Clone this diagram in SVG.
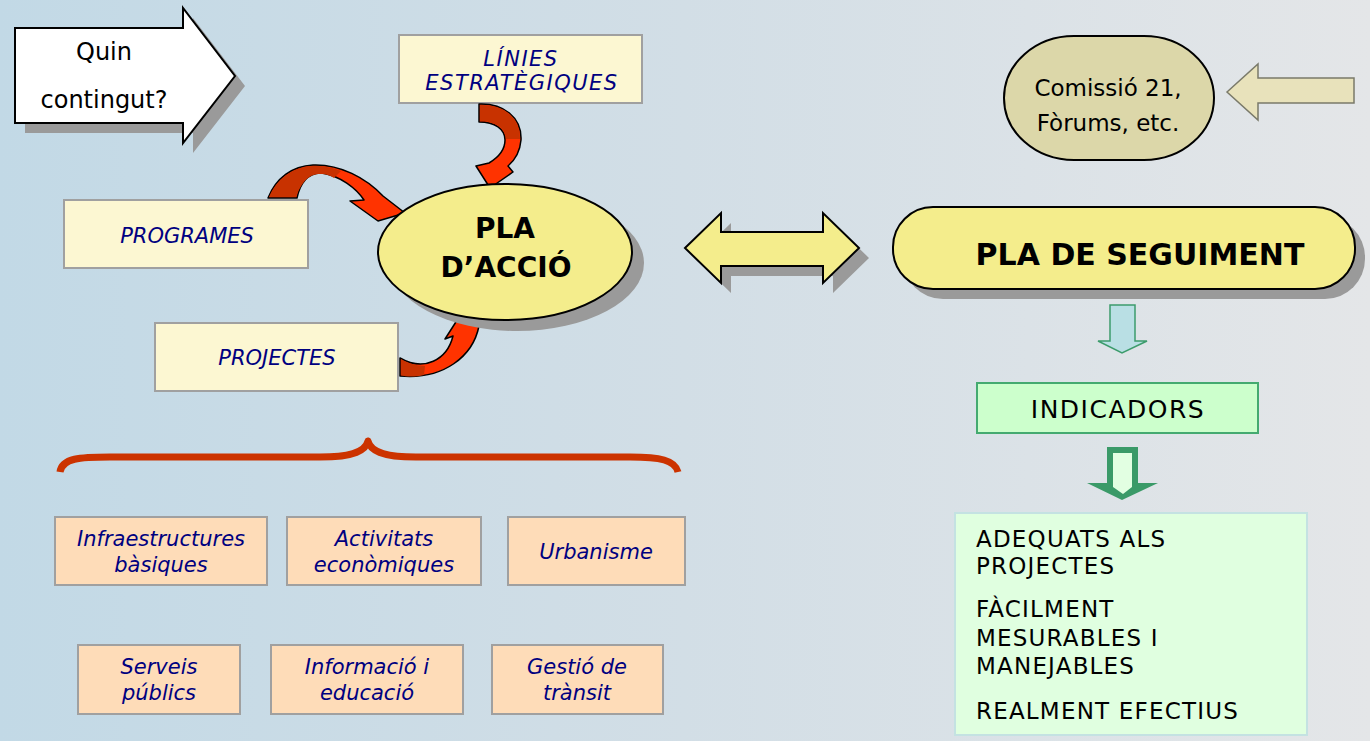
<svg xmlns="http://www.w3.org/2000/svg" width="1370" height="741" viewBox="0 0 1370 741">
<defs>
<linearGradient id="bg" x1="0" y1="0" x2="1" y2="0">
<stop offset="0" stop-color="#c2d9e6"/>
<stop offset="0.5" stop-color="#d2dee6"/>
<stop offset="1" stop-color="#e4e6e8"/>
</linearGradient>
</defs>
<style>
text{font-family:"DejaVu Sans","Liberation Sans",sans-serif;}
.blue{fill:#000080;font-style:italic;font-size:21px;text-anchor:middle;}
.blk{fill:#000;text-anchor:middle;}
.bold{font-weight:bold;}
.cream{fill:#fcf7d2;stroke:#a0a0a0;stroke-width:2;}
.peach{fill:#fedcb8;stroke:#a0a0a0;stroke-width:2;}
.shadow{fill:#9a9a9a;}
.yel{fill:#f4ed8c;stroke:#000;stroke-width:2;}
.red{fill:#ff3300;stroke:#000;stroke-width:1.5;stroke-linejoin:round;}
.dred{fill:#c83200;stroke:none;}
.list{fill:#000;font-size:23px;letter-spacing:1.2px;}
</style>
<rect x="0" y="0" width="1370" height="741" fill="url(#bg)"/>

<g id="quin">
<polygon class="shadow" points="25,38 193,38 193,18 245,86 193,153 193,133 25,133"/>
<polygon points="15,28 183,28 183,8 235,76 183,143 183,123 15,123" fill="#fff" stroke="#000" stroke-width="2"/>
<text class="blk" x="104" y="60" font-size="24">Quin</text>
<text class="blk" x="104" y="108" font-size="24">contingut?</text>
</g>

<g id="linies">
<rect class="cream" x="399" y="35" width="243" height="68"/>
<text class="blue" x="521" y="66" letter-spacing="1.5">LÍNIES</text>
<text class="blue" x="522" y="90" letter-spacing="1.5">ESTRATÈGIQUES</text>
</g>

<g id="programes">
<rect class="cream" x="64" y="200" width="244" height="68"/>
<text class="blue" x="187" y="243">PROGRAMES</text>
</g>

<g id="projectes">
<rect class="cream" x="155" y="323" width="243" height="68"/>
<text class="blue" x="277" y="365">PROJECTES</text>
</g>

<g id="connectors">
<path class="red" d="M479,104 C503,103 522,117 521,140 C520,152 515,160 508,166 L513,172 L490,188 L476,166 L489,163 C499,157 505,149 505,140 C505,129 495,122 479,122 Z"/>
<path class="dred" d="M480,105 C503,104 520,117 520,139 L506,139 C506,129 495,121 480,121 Z"/>
<path class="red" d="M268,198 C276,178 292,166 313,165 C340,164 366,178 383,196 L405,213 L378,221 L350,201 L364,200 C356,188 340,176 322,173 C308,172 300,184 297,198 Z"/>
<path class="dred" d="M269,197 C277,179 292,167 313,166 C325,166 334,168 341,171 L334,178 C329,175 326,174 322,174 C308,173 301,184 296,197 Z"/>
<path class="red" d="M400,358 C424,372 447,360 453,336 L445,339 L470,300 L487,322 L479,326 C473,356 444,380 400,376 Z"/>
<path class="dred" d="M401,359 C408,363 416,366 425,366 L424,375 C415,377 406,377 401,375 Z"/>
<polygon class="shadow" points="695,258 731,223 731,242 833,242 833,223 869,258 833,293 833,276 731,276 731,293"/>
<polygon class="yel" points="685,248 721,213 721,232 823,232 823,213 859,248 823,283 823,266 721,266 721,283"/>
<polygon points="1227,92 1258,64 1258,78 1354,78 1354,103 1258,103 1258,120" fill="#e8e2bb" stroke="#7a7a6a" stroke-width="1.5"/>
<polygon points="1110,305 1135,305 1135,341 1147,341 1122,353 1098,341 1110,341" fill="#b9dfe4" stroke="#3c9c6c" stroke-width="1.5"/>
<polygon points="1107,447 1138,447 1138,483 1158,483 1122,500 1087,483 1107,483" fill="#3a9a68"/>
<polygon points="1113,453 1132,453 1132,487 1123,494 1113,487" fill="#e2ffe2"/>
<path d="M60,472 C62,458 80,457 110,457 L320,457 C355,457 366,450 368,441 C370,450 381,457 416,457 L630,457 C660,457 675,460 678,472" fill="none" stroke="#cc3300" stroke-width="7" stroke-linejoin="round"/>
</g>

<g id="pla-accio">
<ellipse class="shadow" cx="517" cy="263" rx="127" ry="68"/>
<ellipse class="yel" cx="505" cy="252" rx="127" ry="68"/>
<text class="blk bold" x="505" y="238" font-size="28">PLA</text>
<text class="blk bold" x="506" y="277" font-size="28">D’ACCIÓ</text>
</g>

<g id="comissio">
<rect x="1004" y="36" width="210" height="124" rx="70" ry="62" fill="#dcd7a9" stroke="#000" stroke-width="2"/>
<text class="blk" x="1108" y="96" font-size="23">Comissió 21,</text>
<text class="blk" x="1108" y="131" font-size="23">Fòrums, etc.</text>
</g>

<g id="pla-seguiment">
<rect class="shadow" x="903" y="217" width="462" height="82" rx="40"/>
<rect class="yel" x="893" y="207" width="462" height="82" rx="40"/>
<text class="blk bold" x="1140" y="265" font-size="30">PLA DE SEGUIMENT</text>
</g>

<g id="indicadors">
<rect x="977" y="383" width="281" height="50" fill="#ccffcc" stroke="#44aa70" stroke-width="2"/>
<text class="blk" x="1118" y="418" font-size="25" letter-spacing="1.5">INDICADORS</text>
</g>

<g id="criteris">
<rect x="955" y="513" width="352" height="222" fill="#e0ffe0" stroke="#c4e2e2" stroke-width="2"/>
<text class="list" x="976" y="547">ADEQUATS ALS</text>
<text class="list" x="976" y="574">PROJECTES</text>
<text class="list" x="976" y="617">FÀCILMENT</text>
<text class="list" x="976" y="646">MESURABLES I</text>
<text class="list" x="976" y="674">MANEJABLES</text>
<text class="list" x="976" y="719">REALMENT EFECTIUS</text>
</g>

<g id="infraestructures">
<rect class="peach" x="55" y="517" width="212" height="68"/>
<text class="blue" x="161" y="546">Infraestructures</text>
<text class="blue" x="161" y="572">bàsiques</text>
</g>
<g id="activitats">
<rect class="peach" x="287" y="517" width="194" height="68"/>
<text class="blue" x="384" y="546">Activitats</text>
<text class="blue" x="384" y="572">econòmiques</text>
</g>
<g id="urbanisme">
<rect class="peach" x="508" y="517" width="177" height="68"/>
<text class="blue" x="596" y="559">Urbanisme</text>
</g>
<g id="serveis">
<rect class="peach" x="78" y="645" width="162" height="69"/>
<text class="blue" x="159" y="674">Serveis</text>
<text class="blue" x="159" y="700">públics</text>
</g>
<g id="informacio">
<rect class="peach" x="271" y="645" width="192" height="69"/>
<text class="blue" x="367" y="674">Informació i</text>
<text class="blue" x="367" y="700">educació</text>
</g>
<g id="gestio">
<rect class="peach" x="492" y="645" width="171" height="69"/>
<text class="blue" x="577" y="674">Gestió de</text>
<text class="blue" x="577" y="700">trànsit</text>
</g>
</svg>
